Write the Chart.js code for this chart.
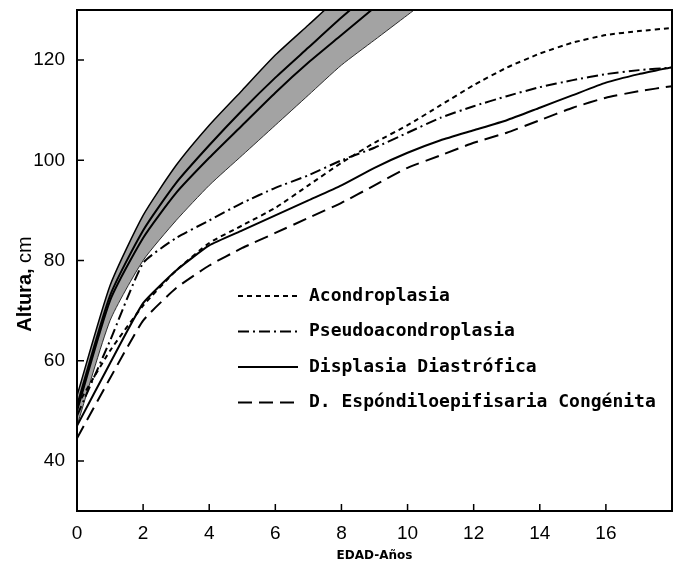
<!DOCTYPE html>
<html>
<head>
<meta charset="utf-8">
<script src="https://cdn.jsdelivr.net/npm/chart.js@4.4.1/dist/chart.umd.min.js"></script>
<style>
  html, body { margin: 0; padding: 0; background: #fff; }
  #wrap { width: 683px; height: 564px; }
</style>
</head>
<body>
<div id="wrap"><canvas id="grafico"></canvas></div>
<script>
// Edades (años) y alturas (cm)
const edades = [0, 1, 2, 3, 4, 5, 6, 7, 8, 9, 10, 11, 12, 13, 14, 15, 16, 17, 18];
const acondroplasia = [51, 62, 71, 78, 83.5, 87, 90.5, 95, 99.5, 103.5, 107, 111, 115, 118.5, 121.3, 123.5, 125, 125.8, 126.4];
const pseudoacondroplasia = [49, 64, 79.5, 84.5, 88, 91.5, 94.5, 97, 100, 102.5, 105.5, 108.5, 110.8, 112.8, 114.6, 116, 117.2, 118, 118.5];
const diastrofica = [47, 59.5, 71.5, 78, 83, 86, 89, 92, 95, 98.5, 101.5, 104, 106, 108, 110.5, 113, 115.5, 117.2, 118.6];
const espondilo = [44.5, 56.5, 68, 74.5, 79, 82.5, 85.5, 88.5, 91.5, 95, 98.5, 101, 103.5, 105.5, 108, 110.5, 112.5, 113.8, 114.8];

// Banda de crecimiento normal (sale por arriba del gráfico)
const edadesNormal = [0, 1, 2, 3, 4, 5, 6, 7, 8, 9, 10, 11];
const normalSuperior = [53, 75, 89, 99, 107, 114, 121, 127, 133, 138, 143, 148];
const normalInferior = [47, 68, 80, 88, 95, 101, 107, 113, 119, 124, 129, 134];
const normalA = [51, 73, 86, 95.5, 103, 110, 116.5, 122.5, 128.5, 134, 139, 144];
const normalB = [50, 72, 84.5, 93.5, 100.5, 107, 113.5, 119.5, 125, 130.5, 136, 141];

const ticksX = [0, 2, 4, 6, 8, 10, 12, 14, 16];
const ticksY = [40, 60, 80, 100, 120];

function puntos(xs, ys) {
    return ys.map((y, i) => ({ x: xs[i], y: y }));
}

function serie(label, ys, dash) {
    return {
        label: label,
        data: puntos(edades, ys),
        borderColor: '#000',
        borderWidth: 2,
        borderDash: dash,
        pointRadius: 0,
        fill: false,
        tension: 0.15
    };
}

// Leyenda, ticks hacia adentro, marco y títulos
const extras = {
    id: 'extras',
    afterDraw(chart) {
        const ctx = chart.ctx;
        const ca = chart.chartArea;
        const sx = chart.scales.x, sy = chart.scales.y;
        ctx.save();
        ctx.strokeStyle = '#000';
        ctx.lineWidth = 2;
        ctx.setLineDash([]);
        ctx.strokeRect(ca.left, ca.top, ca.right - ca.left, ca.bottom - ca.top);
        ctx.lineWidth = 1.5;
        ctx.beginPath();
        ticksX.forEach(v => {
            const px = sx.getPixelForValue(v);
            ctx.moveTo(px, ca.bottom);
            ctx.lineTo(px, ca.bottom - 7);
        });
        ticksY.forEach(v => {
            const py = sy.getPixelForValue(v);
            ctx.moveTo(ca.left, py);
            ctx.lineTo(ca.left + 7, py);
        });
        ctx.stroke();

        // leyenda
        let y = 296;
        ctx.font = 'bold 18px "DejaVu Sans Mono"';
        ctx.textBaseline = 'middle';
        ctx.fillStyle = '#000';
        chart.data.datasets.forEach(ds => {
            if (!ds.enLeyenda) return;
            ctx.setLineDash(ds.borderDash || []);
            ctx.lineWidth = 2;
            ctx.beginPath();
            ctx.moveTo(238, y);
            ctx.lineTo(298, y);
            ctx.stroke();
            ctx.setLineDash([]);
            ctx.fillText(ds.label, 309, y);
            y += 35.5;
        });

        // títulos de ejes
        ctx.textAlign = 'center';
        ctx.textBaseline = 'alphabetic';
        ctx.font = 'bold 12px "DejaVu Sans"';
        ctx.fillText('EDAD-Años', (ca.left + ca.right) / 2, 559);

        ctx.translate(31, 284);
        ctx.rotate(-Math.PI / 2);
        ctx.textAlign = 'left';
        ctx.font = 'bold 20px "Liberation Sans"';
        const t1 = 'Altura, ';
        const w1 = ctx.measureText(t1).width;
        ctx.font = '20px "Liberation Sans"';
        const w2 = ctx.measureText('cm').width;
        const x0 = -(w1 + w2) / 2;
        ctx.font = 'bold 20px "Liberation Sans"';
        ctx.fillText(t1, x0, 0);
        ctx.font = '20px "Liberation Sans"';
        ctx.fillText('cm', x0 + w1, 0);
        ctx.restore();
    }
};

const datasets = [
    serie('Acondroplasia', acondroplasia, [5, 4]),
    serie('Pseudoacondroplasia', pseudoacondroplasia, [11, 4, 2, 4]),
    serie('Displasia Diastrófica', diastrofica, []),
    serie('D. Espóndiloepifisaria Congénita', espondilo, [14, 7]),
    {
        label: 'Normal A', data: puntos(edadesNormal, normalA),
        borderColor: '#000', borderWidth: 2, pointRadius: 0, fill: false, tension: 0.2
    },
    {
        label: 'Normal B', data: puntos(edadesNormal, normalB),
        borderColor: '#000', borderWidth: 2, pointRadius: 0, fill: false, tension: 0.2
    },
    {
        label: 'Normal superior', data: puntos(edadesNormal, normalSuperior),
        borderColor: '#000', borderWidth: 1.5, pointRadius: 0,
        fill: '+1', backgroundColor: 'rgba(0,0,0,0.36)', tension: 0.2
    },
    {
        label: 'Normal inferior', data: puntos(edadesNormal, normalInferior),
        borderColor: '#333', borderWidth: 1, pointRadius: 0, fill: false, tension: 0.2
    }
];
datasets.slice(0, 4).forEach(d => d.enLeyenda = true);

new Chart(document.getElementById('grafico'), {
    type: 'line',
    data: { datasets: datasets },
    plugins: [extras],
    options: {
        responsive: true,
        maintainAspectRatio: false,
        animation: false,
        layout: { padding: { top: 10, right: 11, left: 0, bottom: 0 } },
        plugins: { legend: { display: false }, tooltip: { enabled: false } },
        scales: {
            x: {
                type: 'linear', min: 0, max: 18,
                afterBuildTicks: s => { s.ticks = ticksX.map(v => ({ value: v })); },
                afterFit: s => { s.height = 53; s.paddingLeft = 0; s.paddingRight = 0; },
                grid: { display: false },
                border: { display: false },
                ticks: { color: '#000', padding: 3, font: { family: 'Liberation Sans', size: 19 } }
            },
            y: {
                min: 30, max: 130,
                afterBuildTicks: s => { s.ticks = ticksY.map(v => ({ value: v })); },
                afterFit: s => { s.width = 77; s.paddingTop = 0; s.paddingBottom = 0; },
                grid: { display: false },
                border: { display: false },
                ticks: { color: '#000', padding: 4, font: { family: 'Liberation Sans', size: 19 } }
            }
        }
    }
});
</script>
</body>
</html>
